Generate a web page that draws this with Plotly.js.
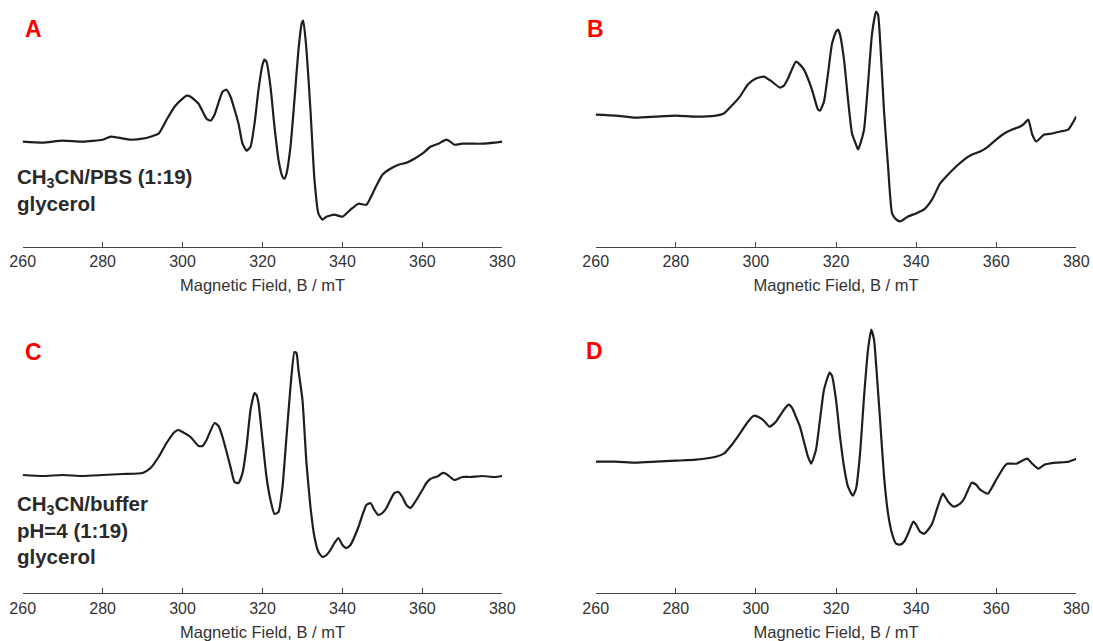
<!DOCTYPE html>
<html>
<head>
<meta charset="utf-8">
<script src="https://cdn.plot.ly/plotly-3.0.1.min.js"></script>
<style>html,body{margin:0;padding:0;background:#fff;}#chart{width:1093px;height:641px;}</style>
</head>
<body>
<div id="chart"></div>
<script>
// ---- data ----
const tickValues = [260, 280, 300, 320, 340, 360, 380];
const axisTitle = 'Magnetic Field, B / mT';
const panelLetters = ['A', 'B', 'C', 'D'];
const labelA = ['CH<sub>3</sub>CN/PBS (1:19)', 'glycerol'];
const labelC = ['CH<sub>3</sub>CN/buffer', 'pH=4 (1:19)', 'glycerol'];

const aField = [260,265,270,275,280,282,284,287,290,292,294,296,298,300,301,302,304,306,307,308,310,311,312,314,315,316,317,318,319,320,320.5,321,322,323,324,325,325.5,326,327,328,329,329.8,330.2,331,332,333,334,335,336,338,340,342,344,346,348,350,352,354,356,358,360,362,364,366,367,368,370,372,375,378,380];
const aSignal = [0,-1,1,0,2,5,4,2,3,5,8,22,35,43,46,45,38,23,21,27,50,52,45,18,-2,-9,-5,18,52,77,82,80,55,15,-18,-35,-37,-32,-5,42,92,118,121,92,32,-38,-72,-78,-75,-73,-75,-68,-62,-63,-48,-33,-27,-23,-21,-17,-12,-5,-2,2,0,-3,-2,-2,-2,-1,0];

const bField = [260,265,270,275,280,285,290,292,294,296,298,300,302,304,306,307,308,310,311,312,314,315.5,316,317,318,319,320,320.5,321,322,323,324,325,325.5,326,327,328,329,330,330.5,331,332,333,334,335,336,338,340,342,344,346,348,350,352,354,356,358,360,362,364,366,367,368,369,370,372,374,376,378,379,380];
const bSignal = [2,1,-1,0,1,0,1,3,11,20,32,38,40,35,29,31,38,55,52,47,27,7,6,15,43,73,85,87,82,57,17,-17,-28,-33,-28,-13,33,83,105,102,77,5,-50,-97,-103,-105,-100,-97,-93,-83,-67,-58,-50,-43,-38,-35,-30,-23,-17,-13,-10,-7,-3,-18,-25,-18,-17,-15,-13,-7,0];

const cField = [260,265,270,275,280,285,290,292,294,296,298,299,300,302,304,305,306,308,309,310,312,313,314,315,316,317,318,318.5,319,320,321,322,323,324,325,326,327,328,328.5,329,330,331,332,333,334,335,336,337,338,339,340,341,342,344,345,346,347,348,349,350,351,352,353,354,355,356,357,358,360,361,362,364,365,366,368,370,372,375,378,380];
const cSignal = [0,-1,0,-1,0,1,2,7,18,32,43,45,43,38,29,29,35,52,49,38,8,-7,-8,2,28,65,82,80,72,35,-2,-25,-39,-37,-12,38,88,123,122,105,75,12,-32,-62,-77,-82,-80,-75,-68,-63,-70,-73,-70,-52,-40,-30,-28,-35,-40,-38,-33,-25,-18,-17,-22,-30,-33,-28,-15,-8,-4,-1,2,1,-5,-2,-2,-1,-2,-1];

const dField = [260,265,270,275,280,285,290,292,294,296,298,299.5,301,302,303.4,305,307,308.2,309,310,311,312,313,313.8,315,316,317,318.4,319,320,321,322,323,324.2,325,326,327,328,328.8,329.5,330,331,332,333,334,335,336,337,338,339.3,340,341,342,343,344,345,346,346.7,348,349.5,351,352,353,353.9,355,356,357.9,360,362,362.7,365,367.7,369,370.5,372,375,378,380];
const dSignal = [0,0,-1,0,1,2,5,8,17,28,40,46,44,41,35,40,52,57,54,45,35,20,5,-2,12,42,72,89,86,62,25,-5,-25,-34,-27,8,65,112,132,122,98,42,-15,-52,-72,-82,-83,-80,-72,-60,-63,-70,-72,-68,-62,-50,-38,-32,-40,-45,-42,-37,-28,-21,-23,-28,-32,-18,-5,-2,-2,3,-2,-7,-3,-1,0,3];

// ---- layout helpers ----
const W = 1093, H = 641;
const px = v => v / W;
const py = v => 1 - v / H;
const lineColor = '#1e1e1e';
const font = 'Liberation Sans, Arial, Helvetica, sans-serif';

function trace(x, y, n) {
  return {x: x, y: y, type: 'scatter', mode: 'lines',
    line: {color: lineColor, width: 2.2, shape: 'spline', smoothing: 0.5},
    xaxis: 'x' + (n === 1 ? '' : n), yaxis: 'y' + (n === 1 ? '' : n),
    hoverinfo: 'skip', showlegend: false};
}

function xax(domain, yref) {
  return {domain: domain, anchor: yref, range: [260, 380], tickvals: tickValues,
    showline: true, linecolor: '#444', linewidth: 1, ticks: 'inside', ticklen: 5,
    tickwidth: 1, tickcolor: '#444', showgrid: false, zeroline: false,
    tickfont: {family: font, size: 16, color: '#333'},
    title: {text: axisTitle, font: {family: font, size: 16.5, color: '#333'}, standoff: 10},
    fixedrange: true};
}
function yax(domain, range) {
  return {domain: domain, range: range, visible: false, fixedrange: true};
}

const topDom = [py(247), py(4)];
const botDom = [py(593.3), py(328)];
const leftDom = [px(22.7), px(502.3)];
const rightDom = [px(595.7), px(1076.3)];

const data = [trace(aField, aSignal, 1), trace(bField, bSignal, 2),
              trace(cField, cSignal, 3), trace(dField, dSignal, 4)];

const letterPos = [[33, 29], [595, 29], [33, 352], [594, 351]];
const annotations = panelLetters.map((t, i) => ({
  text: '<b>' + t + '</b>', xref: 'paper', yref: 'paper',
  x: px(letterPos[i][0]), y: py(letterPos[i][1]), xanchor: 'center', yanchor: 'middle',
  showarrow: false, font: {family: font, size: 23, color: '#ff0000'}}));
function boldLines(lines) { return lines.map(s => '<b>' + s + '</b>').join('<br>'); }
annotations.push({text: boldLines(labelA), xref: 'paper', yref: 'paper',
  x: px(15), y: py(190), xanchor: 'left', yanchor: 'middle', align: 'left', showarrow: false,
  font: {family: font, size: 20.5, color: '#2a2a2a'}});
annotations.push({text: boldLines(labelC), xref: 'paper', yref: 'paper',
  x: px(15), y: py(530), xanchor: 'left', yanchor: 'middle', align: 'left', showarrow: false,
  font: {family: font, size: 20.5, color: '#2a2a2a'}});

const layout = {
  width: W, height: H, margin: {l: 0, r: 0, t: 0, b: 0},
  paper_bgcolor: '#fff', plot_bgcolor: 'rgba(0,0,0,0)',
  xaxis: xax(leftDom, 'y'), yaxis: yax(topDom, [-105.3, 137.7]),
  xaxis2: xax(rightDom, 'y2'), yaxis2: yax(topDom, [-130.6, 112.7]),
  xaxis3: xax(leftDom, 'y3'), yaxis3: yax(botDom, [-118.3, 147]),
  xaxis4: xax(rightDom, 'y4'), yaxis4: yax(botDom, [-131.6, 133.7]),
  annotations: annotations
};

Plotly.newPlot('chart', data, layout, {staticPlot: true, displayModeBar: false});
</script>
</body>
</html>
